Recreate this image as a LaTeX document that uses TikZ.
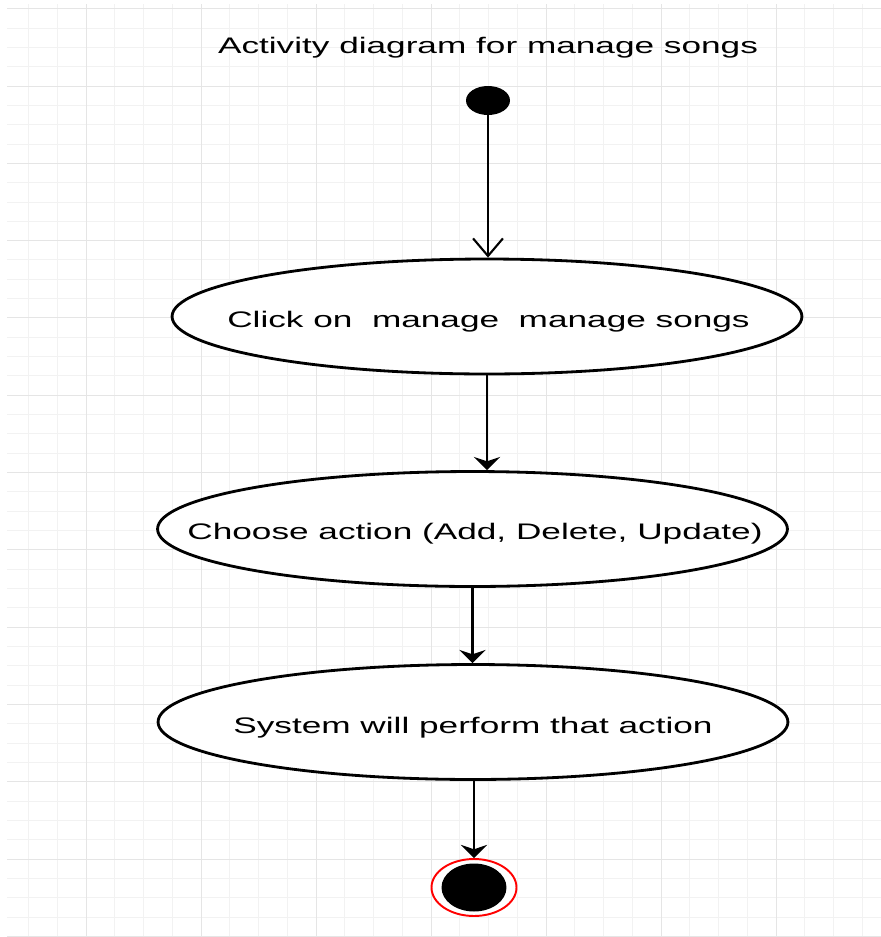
\documentclass[tikz,border=0pt]{standalone}
\usepackage{graphicx}
\usepackage{fontspec}
\setmainfont{Liberation Sans}
\usetikzlibrary{shapes.geometric,arrows.meta}
\newcommand{\widetext}[1]{\scalebox{1.565}[1]{#1}}

\begin{document}
\begin{tikzpicture}[x=0.02cm,y=-0.02cm,
minorline/.style={black!5,line width=0.5pt},
majorline/.style={black!10,line width=0.5pt},
act/.style={ellipse,draw,line width=1.6pt,fill=white,inner sep=0pt,minimum width=12.6cm,minimum height=2.3cm},
txt/.style={inner sep=0pt,anchor=base,font=\fontsize{12.8}{15}\selectfont},
startdot/.style={ellipse,fill=black,inner sep=0pt,minimum width=0.88cm,minimum height=0.58cm},
endring/.style={ellipse,draw=red,line width=1.1pt,fill=white,inner sep=0pt,minimum width=1.7cm,minimum height=1.14cm},
enddot/.style={ellipse,fill=black,inner sep=0pt,minimum width=1.3cm,minimum height=0.96cm},
openflow/.style={line width=1.2pt,-{Straight Barb[length=10pt,width=17pt,line width=1.2pt]}},
flow/.style={line width=1.2pt,-{Stealth[length=7.5pt,width=15pt,inset=2.5pt]}}]
\useasboundingbox (0,0) rectangle (881,937);

\foreach \i in {-2,...,27}
  \draw[minorline] ({86+28.75*\i},4) -- ({86+28.75*\i},937);
\foreach \j in {0,...,48}
  \draw[minorline] (7,{8.7+19.325*\j}) -- (881,{8.7+19.325*\j});
\foreach \i in {0,...,6}
  \draw[majorline] ({86+115*\i},4) -- ({86+115*\i},937);
\foreach \j in {0,...,12}
  \draw[majorline] (7,{8.7+77.3*\j}) -- (881,{8.7+77.3*\j});

\node[txt] at (488,53) (title) {\widetext{Activity diagram for manage songs}};

\node[startdot] at (488,100.5) (start) {};
\node[act] at (487,316.5) (e1) {};
\node[act] at (472.5,529) (e2) {};
\node[act] at (473,722) (e3) {};
\node[endring] at (474,887.5) (end) {};
\node[enddot] at (end) (enddot) {};

\node[txt] at (488.5,327) (t1) {\widetext{Click on\ \ manage\ \ manage songs}};
\node[txt] at (475,539) (t2) {\widetext{Choose action (Add, Delete, Update)}};
\node[txt] at (473,733) (t3) {\widetext{System will perform that action}};

\draw[openflow] (start) -- (start |- e1.north);
\draw[flow] (e1.south) -- (e1.south |- e2.north);
\draw[flow] (e2.south) -- (e2.south |- e3.north);
\draw[flow] (e3.south -| end) -- (end);
\end{tikzpicture}
\end{document}
